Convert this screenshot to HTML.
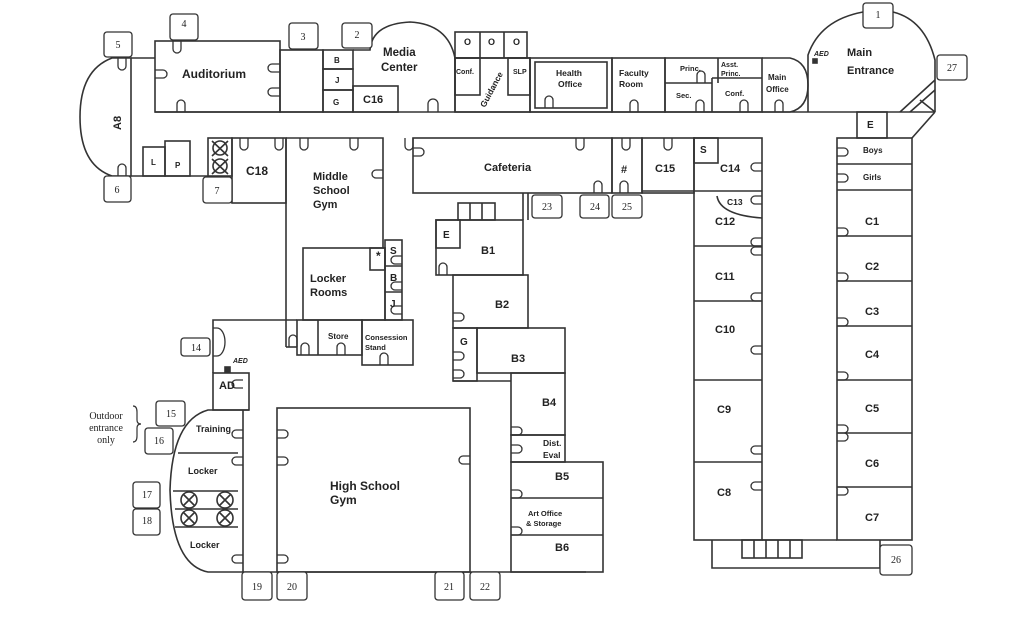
<!DOCTYPE html>
<html><head><meta charset="utf-8"><style>
html,body{margin:0;padding:0;background:#fff;}
svg{display:block;}
text{font-family:"Liberation Sans",sans-serif;font-weight:bold;fill:#222;}
.s{font-family:"Liberation Serif",serif;font-weight:normal;font-size:10px;text-anchor:middle;}
</style></head><body>
<svg width="1029" height="619" viewBox="0 0 1029 619" xmlns="http://www.w3.org/2000/svg">
<g fill="none" stroke="#333" stroke-width="1.6">
<!-- A8 -->
<path d="M131 58 L112 58 Q80 70 80 117 Q80 165 112 176 L131 176 Z"/>
<line x1="131" y1="58" x2="155" y2="58"/>
<line x1="131" y1="176" x2="208" y2="176"/>
<line x1="155" y1="112" x2="808" y2="112"/>
<rect x="155" y="41" width="125" height="71"/>
<rect x="280" y="50" width="43" height="62"/>
<rect x="323" y="50" width="30" height="19"/>
<rect x="323" y="69" width="30" height="21"/>
<rect x="323" y="90" width="30" height="22"/>
<path d="M353 50 L370 50 Q372 24 410 22 Q448 24 455 58 L455 112"/>
<rect x="353" y="86" width="45" height="26"/>
<rect x="455" y="32" width="72" height="26"/>
<line x1="480" y1="32" x2="480" y2="58"/><line x1="504" y1="32" x2="504" y2="58"/>
<rect x="455" y="58" width="75" height="54"/>
<rect x="455" y="58" width="25" height="37"/>
<rect x="508" y="58" width="22" height="37"/>
<rect x="530" y="58" width="82" height="54"/>
<rect x="535" y="62" width="72" height="46"/>
<rect x="612" y="58" width="53" height="54"/>
<rect x="665" y="58" width="97" height="54"/>
<line x1="665" y1="83" x2="712" y2="83"/>
<line x1="718" y1="58" x2="718" y2="83"/>
<line x1="712" y1="78" x2="762" y2="78"/>
<line x1="712" y1="78" x2="712" y2="112"/>
<path d="M762 58 L790 58 Q808 62 808 85 Q808 108 790 112 L762 112"/>
<path d="M808 112 L808 55 Q820 20 863 12"/>
<path d="M893 12 Q925 20 935 60 L935 112"/>
<line x1="808" y1="112" x2="935" y2="112"/>
<path d="M900 112 L935 80 M910 112 L935 90 M920 100 L935 112"/>
<rect x="813" y="59" width="4" height="4" fill="#333"/>
<rect x="857" y="112" width="30" height="26"/>
<line x1="935" y1="112" x2="912" y2="138"/>
<rect x="837" y="138" width="75" height="402"/>
<line x1="837" y1="164" x2="912" y2="164"/><line x1="837" y1="190" x2="912" y2="190"/>
<line x1="837" y1="236" x2="912" y2="236"/><line x1="837" y1="281" x2="912" y2="281"/>
<line x1="837" y1="326" x2="912" y2="326"/><line x1="837" y1="380" x2="912" y2="380"/>
<line x1="837" y1="433" x2="912" y2="433"/><line x1="837" y1="487" x2="912" y2="487"/>
<rect x="694" y="138" width="68" height="402"/>
<rect x="694" y="138" width="24" height="25"/>
<line x1="642" y1="191" x2="762" y2="191"/>
<line x1="694" y1="246" x2="762" y2="246"/><line x1="694" y1="301" x2="762" y2="301"/>
<line x1="694" y1="380" x2="762" y2="380"/><line x1="694" y1="462" x2="762" y2="462"/>
<path d="M717 196 Q720 215 762 218"/>
<line x1="762" y1="540" x2="837" y2="540"/>
<path d="M712 540 L712 568 L880 568 L880 540"/>
<rect x="742" y="540" width="60" height="18"/>
<line x1="754" y1="540" x2="754" y2="558"/><line x1="766" y1="540" x2="766" y2="558"/><line x1="778" y1="540" x2="778" y2="558"/><line x1="790" y1="540" x2="790" y2="558"/>
<rect x="413" y="138" width="199" height="55"/>
<rect x="612" y="138" width="30" height="55"/>
<rect x="642" y="138" width="52" height="55"/>
<rect x="143" y="147" width="22" height="29"/>
<rect x="165" y="141" width="25" height="35"/>
<rect x="208" y="138" width="24" height="38"/>
<path d="M212 141 L228 156 M228 141 L212 156 M212 159 L228 174 M228 159 L212 174"/>
<circle cx="220" cy="148" r="7"/><circle cx="220" cy="166" r="7"/>
<rect x="232" y="138" width="54" height="65"/>
<path d="M286 138 L383 138 L383 248"/>
<line x1="286" y1="138" x2="286" y2="347"/>
<line x1="286" y1="347" x2="297" y2="347"/>
<rect x="303" y="248" width="82" height="72"/>
<rect x="385" y="240" width="17" height="80"/>
<line x1="385" y1="266" x2="402" y2="266"/><line x1="385" y1="292" x2="402" y2="292"/>
<rect x="370" y="248" width="15" height="22"/>
<rect x="297" y="320" width="65" height="35"/>
<line x1="318" y1="320" x2="318" y2="355"/>
<rect x="362" y="320" width="51" height="45"/>
<path d="M297 320 L213 320 L213 373"/>
<rect x="213" y="373" width="36" height="37"/>
<rect x="225" y="367" width="5" height="5" fill="#333"/>
<path d="M249 410 L208 410 Q172 420 170 490 Q172 565 208 572 L586 572"/>
<line x1="243" y1="410" x2="243" y2="572"/>
<line x1="178" y1="453" x2="238" y2="453"/>
<line x1="173" y1="491" x2="238" y2="491"/><line x1="175" y1="509" x2="238" y2="509"/><line x1="175" y1="527" x2="238" y2="527"/>
<circle cx="189" cy="500" r="8"/><circle cx="189" cy="518" r="8"/><circle cx="225" cy="500" r="8"/><circle cx="225" cy="518" r="8"/>
<path d="M183 494 L195 506 M195 494 L183 506 M183 512 L195 524 M195 512 L183 524 M219 494 L231 506 M231 494 L219 506 M219 512 L231 524 M231 512 L219 524"/>
<rect x="277" y="408" width="193" height="164"/>
<rect x="436" y="220" width="87" height="55"/>
<rect x="436" y="220" width="24" height="28"/>
<rect x="458" y="203" width="37" height="17"/>
<line x1="470" y1="203" x2="470" y2="220"/><line x1="482" y1="203" x2="482" y2="220"/>
<line x1="523" y1="193" x2="523" y2="220"/><line x1="528" y1="193" x2="528" y2="220"/>
<rect x="453" y="275" width="75" height="53"/>
<rect x="453" y="328" width="24" height="53"/>
<rect x="477" y="328" width="88" height="45"/>
<line x1="453" y1="381" x2="511" y2="381"/>
<rect x="511" y="373" width="54" height="62"/>
<rect x="511" y="435" width="54" height="27"/>
<rect x="511" y="462" width="92" height="110"/>
<line x1="511" y1="498" x2="603" y2="498"/><line x1="511" y1="535" x2="603" y2="535"/>
<g stroke-width="1.3">
<path d="M118 58 v8 a4 4 0 0 0 8 0 v-8 M118 176 v-8 a4 4 0 0 1 8 0 v8"/>
<path d="M173 41 v8 a4 4 0 0 0 8 0 v-8 M177 112 v-8 a4 4 0 0 1 8 0 v8"/>
<path d="M155 70 h8 a4 4 0 0 1 0 8 h-8 M280 64 h-8 a4 4 0 0 0 0 8 h8 M280 88 h-8 a4 4 0 0 0 0 8 h8"/>
<path d="M428 112 v-8 a5 5 0 0 1 10 0 v8 M545 108 v-8 a4 4 0 0 1 8 0 v8 M630 112 v-8 a4 4 0 0 1 8 0 v8 M696 112 v-8 a4 4 0 0 1 8 0 v8 M740 112 v-8 a4 4 0 0 1 8 0 v8 M775 112 v-8 a4 4 0 0 1 8 0 v8 M697 83 v-8 a4 4 0 0 1 8 0 v8"/>
<path d="M405 138 v8 a4 4 0 0 0 8 0 v-8 M576 138 v8 a4 4 0 0 0 8 0 v-8 M622 138 v8 a4 4 0 0 0 8 0 v-8 M664 138 v8 a4 4 0 0 0 8 0 v-8 M240 138 v8 a4 4 0 0 0 8 0 v-8 M275 138 v8 a4 4 0 0 0 8 0 v-8 M300 138 v8 a4 4 0 0 0 8 0 v-8 M350 138 v8 a4 4 0 0 0 8 0 v-8"/>
<path d="M594 193 v-8 a4 4 0 0 1 8 0 v8 M620 193 v-8 a4 4 0 0 1 8 0 v8"/>
<path d="M762 163 h-7 a4 4 0 0 0 0 8 h7 M762 196 h-7 a4 4 0 0 0 0 8 h7 M762 238 h-7 a4 4 0 0 0 0 8 h7 M762 247 h-7 a4 4 0 0 0 0 8 h7 M762 293 h-7 a4 4 0 0 0 0 8 h7 M762 346 h-7 a4 4 0 0 0 0 8 h7 M762 446 h-7 a4 4 0 0 0 0 8 h7 M762 482 h-7 a4 4 0 0 0 0 8 h7"/>
<path d="M837 148 h7 a4 4 0 0 1 0 8 h-7 M837 174 h7 a4 4 0 0 1 0 8 h-7 M837 228 h7 a4 4 0 0 1 0 8 h-7 M837 273 h7 a4 4 0 0 1 0 8 h-7 M837 318 h7 a4 4 0 0 1 0 8 h-7 M837 372 h7 a4 4 0 0 1 0 8 h-7 M837 425 h7 a4 4 0 0 1 0 8 h-7 M837 433 h7 a4 4 0 0 1 0 8 h-7 M837 487 h7 a4 4 0 0 1 0 8 h-7"/>
<path d="M383 170 h-7 a4 4 0 0 0 0 8 h7 M413 148 h7 a4 4 0 0 1 0 8 h-7"/>
<path d="M243 380 h-7 a4 4 0 0 0 0 8 h7 M243 430 h-7 a4 4 0 0 0 0 8 h7 M243 457 h-7 a4 4 0 0 0 0 8 h7 M243 555 h-7 a4 4 0 0 0 0 8 h7"/>
<path d="M277 430 h7 a4 4 0 0 1 0 8 h-7 M277 457 h7 a4 4 0 0 1 0 8 h-7 M277 555 h7 a4 4 0 0 1 0 8 h-7 M470 456 h-7 a4 4 0 0 0 0 8 h7"/>
<path d="M213 328 h4 a8 14 0 0 1 0 28 h-4"/>
<path d="M511 427 h7 a4 4 0 0 1 0 8 h-7 M511 445 h7 a4 4 0 0 1 0 8 h-7 M511 490 h7 a4 4 0 0 1 0 8 h-7 M511 527 h7 a4 4 0 0 1 0 8 h-7"/>
<path d="M453 313 h7 a4 4 0 0 1 0 8 h-7 M453 352 h7 a4 4 0 0 1 0 8 h-7 M453 370 h7 a4 4 0 0 1 0 8 h-7 M439 275 v-8 a4 4 0 0 1 8 0 v8"/>
<path d="M402 256 h-7 a4 4 0 0 0 0 8 h7 M402 282 h-7 a4 4 0 0 0 0 8 h7 M402 306 h-7 a4 4 0 0 0 0 8 h7"/>
<path d="M289 347 v-8 a4 4 0 0 1 8 0 v8 M301 355 v-8 a4 4 0 0 1 8 0 v8 M337 355 v-8 a4 4 0 0 1 8 0 v8 M380 365 v-8 a4 4 0 0 1 8 0 v8"/>
</g>
<g stroke-width="1.3" fill="#fff">
<rect x="104" y="32" width="28" height="25" rx="3"/>
<rect x="104" y="176" width="27" height="26" rx="3"/>
<rect x="170" y="14" width="28" height="26" rx="3"/>
<rect x="289" y="23" width="29" height="26" rx="3"/>
<rect x="342" y="23" width="30" height="25" rx="3"/>
<rect x="863" y="3" width="30" height="25" rx="3"/>
<rect x="937" y="55" width="30" height="25" rx="3"/>
<rect x="203" y="177" width="29" height="26" rx="3"/>
<rect x="532" y="195" width="30" height="23" rx="3"/>
<rect x="580" y="195" width="29" height="23" rx="3"/>
<rect x="612" y="195" width="30" height="23" rx="3"/>
<rect x="181" y="338" width="29" height="18" rx="3"/>
<rect x="156" y="401" width="29" height="25" rx="3"/>
<rect x="145" y="428" width="28" height="26" rx="3"/>
<rect x="133" y="482" width="27" height="26" rx="3"/>
<rect x="133" y="509" width="27" height="26" rx="3"/>
<rect x="242" y="572" width="30" height="28" rx="3"/>
<rect x="277" y="572" width="30" height="28" rx="3"/>
<rect x="435" y="572" width="29" height="28" rx="3"/>
<rect x="470" y="572" width="30" height="28" rx="3"/>
<rect x="880" y="545" width="32" height="30" rx="3"/>
</g>
<path d="M133 406 q4 0 4 6 v8 q0 4 4 4 q-4 0 -4 4 v8 q0 6 -4 6" stroke-width="1.2"/>
</g>
<g>
<text class="s" x="118" y="48">5</text><text class="s" x="117" y="193">6</text>
<text class="s" x="184" y="27">4</text><text class="s" x="303" y="40">3</text>
<text class="s" x="357" y="38">2</text><text class="s" x="878" y="18">1</text>
<text class="s" x="952" y="71">27</text><text class="s" x="217" y="194">7</text>
<text class="s" x="547" y="210">23</text><text class="s" x="595" y="210">24</text>
<text class="s" x="627" y="210">25</text><text class="s" x="196" y="351">14</text>
<text class="s" x="171" y="417">15</text><text class="s" x="159" y="444">16</text>
<text class="s" x="147" y="498">17</text><text class="s" x="147" y="524">18</text>
<text class="s" x="257" y="590">19</text><text class="s" x="292" y="590">20</text>
<text class="s" x="449" y="590">21</text><text class="s" x="485" y="590">22</text>
<text class="s" x="896" y="563">26</text>
<text class="s" x="106" y="419">Outdoor</text><text class="s" x="106" y="431">entrance</text><text class="s" x="106" y="443">only</text>
</g>
<g font-size="11">
<text x="182" y="78" font-size="12">Auditorium</text>
<text x="383" y="56" font-size="11.5">Media</text><text x="381" y="71" font-size="11.5">Center</text>
<text x="363" y="103" font-size="11">C16</text>
<text x="334" y="63" font-size="8">B</text><text x="335" y="83" font-size="8">J</text><text x="333" y="105" font-size="8">G</text>
<text x="464" y="45" font-size="9">O</text><text x="488" y="45" font-size="9">O</text><text x="513" y="45" font-size="9">O</text>
<text x="456" y="74" font-size="7">Conf.</text><text x="513" y="74" font-size="7">SLP</text>
<text x="0" y="0" font-size="8.5" transform="translate(485,108) rotate(-62)">Guidance</text>
<text x="556" y="76" font-size="8.5">Health</text><text x="558" y="87" font-size="8.5">Office</text>
<text x="619" y="76" font-size="8.5">Faculty</text><text x="619" y="87" font-size="8.5">Room</text>
<text x="680" y="71" font-size="7.5">Princ.</text>
<text x="721" y="67" font-size="7">Asst.</text><text x="721" y="76" font-size="7">Princ.</text>
<text x="676" y="98" font-size="7.5">Sec.</text><text x="725" y="96" font-size="7.5">Conf.</text>
<text x="768" y="80" font-size="8">Main</text><text x="766" y="92" font-size="8">Office</text>
<text x="847" y="56" font-size="11">Main</text><text x="847" y="74" font-size="11">Entrance</text>
<text x="814" y="56" font-size="7" font-style="italic">AED</text>
<text x="867" y="128" font-size="10">E</text>
<text x="863" y="153" font-size="8">Boys</text><text x="863" y="180" font-size="8">Girls</text>
<text x="865" y="225">C1</text><text x="865" y="270">C2</text><text x="865" y="315">C3</text>
<text x="865" y="358">C4</text><text x="865" y="412">C5</text><text x="865" y="467">C6</text><text x="865" y="521">C7</text>
<text x="700" y="153" font-size="10">S</text>
<text x="720" y="172">C14</text><text x="727" y="205" font-size="8.5">C13</text>
<text x="715" y="225">C12</text><text x="715" y="280">C11</text><text x="715" y="333">C10</text>
<text x="717" y="413">C9</text><text x="717" y="496">C8</text>
<text x="484" y="171">Cafeteria</text><text x="621" y="173">#</text><text x="655" y="172">C15</text>
<text x="0" y="0" font-size="11" transform="translate(121,130) rotate(-90)">A8</text>
<text x="151" y="165" font-size="8">L</text><text x="175" y="168" font-size="8">P</text>
<text x="246" y="175" font-size="12">C18</text>
<text x="313" y="180">Middle</text><text x="313" y="194">School</text><text x="313" y="208">Gym</text>
<text x="310" y="282">Locker</text><text x="310" y="296">Rooms</text>
<text x="376" y="260" font-size="12" font-weight="normal">*</text>
<text x="390" y="254" font-size="10">S</text><text x="390" y="281" font-size="10">B</text><text x="390" y="307" font-size="10">J</text>
<text x="328" y="339" font-size="8">Store</text>
<text x="365" y="340" font-size="7.5">Consession</text><text x="365" y="350" font-size="7.5">Stand</text>
<text x="443" y="238" font-size="10">E</text>
<text x="481" y="254">B1</text><text x="495" y="308">B2</text><text x="460" y="345" font-size="10">G</text>
<text x="511" y="362">B3</text><text x="542" y="406">B4</text>
<text x="543" y="446" font-size="8.5">Dist.</text><text x="543" y="458" font-size="8.5">Eval</text>
<text x="555" y="480">B5</text>
<text x="528" y="516" font-size="7.5">Art Office</text><text x="526" y="526" font-size="7.5">&amp; Storage</text>
<text x="555" y="551">B6</text>
<text x="219" y="389">AD</text>
<text x="233" y="363" font-size="7" font-style="italic">AED</text>
<text x="196" y="432" font-size="9">Training</text>
<text x="188" y="474" font-size="9">Locker</text><text x="190" y="548" font-size="9">Locker</text>
<text x="330" y="490" font-size="12">High School</text><text x="330" y="504" font-size="12">Gym</text>
</g>
</svg>
</body></html>
